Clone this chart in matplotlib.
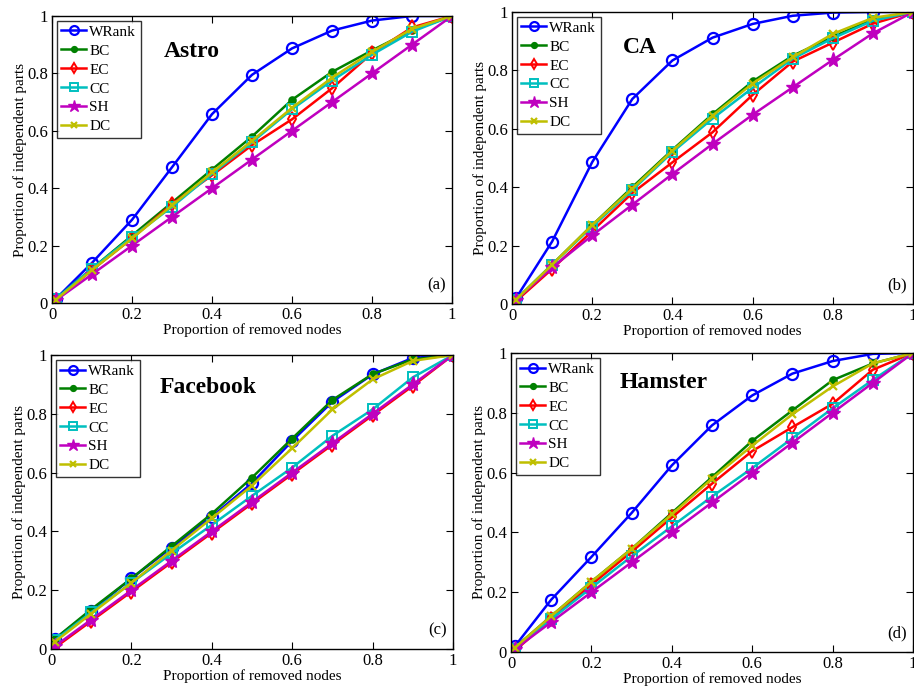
import numpy as np
import matplotlib
matplotlib.use('Agg')
import matplotlib.pyplot as plt
from matplotlib.ticker import FuncFormatter

plt.rcParams['font.family'] = ['Liberation Serif', 'DejaVu Serif']

x = [0.01, 0.1, 0.2, 0.3, 0.4, 0.5, 0.6, 0.7, 0.8, 0.9, 1.0]
methods = ['WRank', 'BC', 'EC', 'CC', 'SH', 'DC']

# Astro
astro_wrank = [0.015, 0.14, 0.29, 0.473, 0.658, 0.795, 0.887, 0.949, 0.984, 1.0, 1.0]
astro_bc = [0.015, 0.12, 0.235, 0.35, 0.465, 0.58, 0.708, 0.805, 0.88, 0.95, 1.0]
astro_ec = [0.012, 0.115, 0.225, 0.345, 0.445, 0.55, 0.64, 0.748, 0.87, 0.96, 1.0]
astro_cc = [0.015, 0.12, 0.23, 0.335, 0.45, 0.56, 0.675, 0.775, 0.865, 0.945, 1.0]
astro_sh = [0.01, 0.1, 0.2, 0.3, 0.4, 0.5, 0.6, 0.7, 0.8, 0.9, 1.0]
astro_dc = [0.012, 0.115, 0.225, 0.34, 0.455, 0.565, 0.68, 0.785, 0.875, 0.955, 1.0]

# CA
ca_wrank = [0.02, 0.214, 0.486, 0.702, 0.834, 0.912, 0.959, 0.987, 0.998, 1.0, 1.0]
ca_bc = [0.015, 0.135, 0.27, 0.40, 0.528, 0.65, 0.762, 0.85, 0.915, 0.975, 1.0]
ca_ec = [0.01, 0.12, 0.25, 0.38, 0.485, 0.588, 0.716, 0.83, 0.895, 0.96, 1.0]
ca_cc = [0.015, 0.135, 0.265, 0.39, 0.52, 0.635, 0.74, 0.84, 0.91, 0.97, 1.0]
ca_sh = [0.015, 0.125, 0.235, 0.34, 0.445, 0.548, 0.648, 0.742, 0.836, 0.927, 1.0]
ca_dc = [0.015, 0.135, 0.27, 0.395, 0.525, 0.645, 0.755, 0.845, 0.925, 0.98, 1.0]

# Facebook
fb_wrank = [0.035, 0.13, 0.24, 0.345, 0.45, 0.564, 0.708, 0.841, 0.934, 0.99, 1.0]
fb_bc = [0.035, 0.135, 0.24, 0.35, 0.46, 0.583, 0.716, 0.847, 0.935, 0.985, 1.0]
fb_ec = [0.005, 0.095, 0.195, 0.295, 0.395, 0.495, 0.595, 0.695, 0.795, 0.895, 1.0]
fb_cc = [0.03, 0.125, 0.225, 0.325, 0.422, 0.521, 0.617, 0.725, 0.815, 0.924, 1.0]
fb_sh = [0.01, 0.1, 0.2, 0.3, 0.4, 0.5, 0.6, 0.7, 0.8, 0.9, 1.0]
fb_dc = [0.025, 0.12, 0.225, 0.335, 0.445, 0.556, 0.683, 0.815, 0.917, 0.98, 1.0]

# Hamster
ham_wrank = [0.02, 0.175, 0.318, 0.465, 0.624, 0.758, 0.858, 0.931, 0.973, 0.997, 1.0]
ham_bc = [0.015, 0.12, 0.235, 0.345, 0.465, 0.585, 0.706, 0.808, 0.909, 0.965, 1.0]
ham_ec = [0.005, 0.11, 0.225, 0.335, 0.45, 0.563, 0.672, 0.752, 0.83, 0.944, 1.0]
ham_cc = [0.01, 0.11, 0.215, 0.32, 0.42, 0.52, 0.615, 0.715, 0.815, 0.91, 1.0]
ham_sh = [0.01, 0.1, 0.2, 0.3, 0.4, 0.5, 0.6, 0.7, 0.8, 0.9, 1.0]
ham_dc = [0.015, 0.12, 0.235, 0.345, 0.46, 0.58, 0.69, 0.795, 0.888, 0.965, 1.0]

panels = [
    ('Astro', '(a)', [astro_wrank, astro_bc, astro_ec, astro_cc, astro_sh, astro_dc], (0.35, 0.875)),
    ('CA', '(b)', [ca_wrank, ca_bc, ca_ec, ca_cc, ca_sh, ca_dc], (0.32, 0.88)),
    ('Facebook', '(c)', [fb_wrank, fb_bc, fb_ec, fb_cc, fb_sh, fb_dc], (0.39, 0.89)),
    ('Hamster', '(d)', [ham_wrank, ham_bc, ham_ec, ham_cc, ham_sh, ham_dc], (0.38, 0.90)),
]

styles = {
    'WRank': dict(color='#0000FF', marker='o', mfc='none', ms=8, mew=1.6),
    'BC': dict(color='#008000', marker='.', ms=10, mew=1.2),
    'EC': dict(color='#FF0000', marker='d', mfc='none', ms=7, mew=1.4),
    'CC': dict(color='#00BFBF', marker='s', mfc='none', ms=6.5, mew=1.4),
    'SH': dict(color='#BF00BF', marker='*', ms=11, mew=1.0),
    'DC': dict(color='#BFBF00', marker='x', ms=6, mew=1.6),
}

positions = [
    [0.0569, 0.5621, 0.4376, 0.4148],
    [0.5602, 0.5607, 0.4387, 0.4220],
    [0.0558, 0.0621, 0.4398, 0.4249],
    [0.5591, 0.0578, 0.4398, 0.4321],
]

fig = plt.figure(figsize=(9.14, 6.92), dpi=100)

fmt = FuncFormatter(lambda v, p: ('%g' % round(v, 2)))

for (name, tag, series, tpos), pos in zip(panels, positions):
    ax = fig.add_axes(pos)
    for m, y in zip(methods, series):
        ax.plot(x, y, lw=1.8, label=m, **styles[m])
    ax.set_xlim(0, 1)
    ax.set_ylim(0, 1)
    ax.set_xticks(np.arange(0, 1.01, 0.2))
    ax.set_yticks(np.arange(0, 1.01, 0.2))
    ax.xaxis.set_major_formatter(fmt)
    ax.yaxis.set_major_formatter(fmt)
    ax.tick_params(direction='in', top=True, right=True, labelsize=12, length=5, pad=3)
    for s in ax.spines.values():
        s.set_linewidth(1.0)
    ax.set_xlabel('Proportion of removed nodes', fontsize=11, labelpad=0)
    ax.set_ylabel('Proportion of independent parts', fontsize=11, labelpad=0)
    ax.text(tpos[0], tpos[1], name, transform=ax.transAxes, fontsize=17,
            fontweight='bold', ha='center', va='center')
    ax.text(0.985, 0.035, tag, transform=ax.transAxes, fontsize=12,
            ha='right', va='bottom')
    leg = ax.legend(loc='upper left', fontsize=11, frameon=True, fancybox=False,
                    edgecolor='black', handlelength=1.65, handletextpad=0.2,
                    labelspacing=0.34, borderpad=0.3, borderaxespad=0.3,
                    markerscale=0.8)
    leg.get_frame().set_linewidth(1.0)

fig.savefig('out.png', dpi=100)
